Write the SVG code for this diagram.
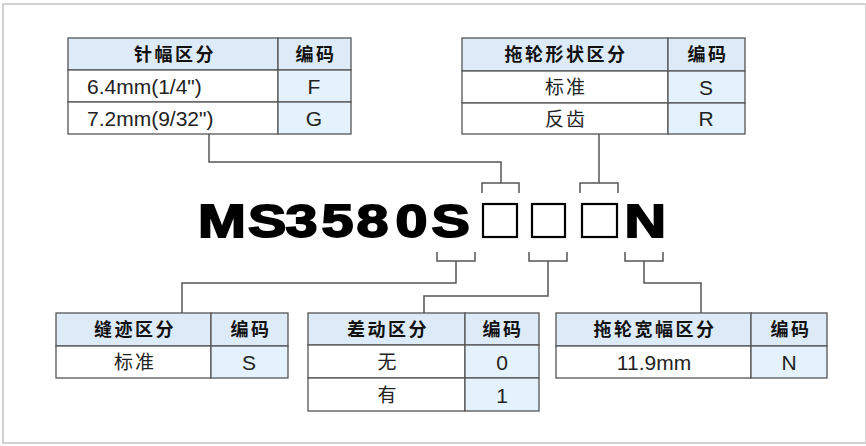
<svg xmlns="http://www.w3.org/2000/svg" width="866" height="446" viewBox="0 0 866 446">
<style>
.frame{fill:#fff;stroke:#c4c4c4;stroke-width:1.5}
.cell{stroke:#555;stroke-width:1.3}
.hd{fill:#dcebf7}
.cd{fill:#e3f2fc}
.wt{fill:#fff}
.ht{font-family:"Noto Sans CJK SC","Liberation Sans",sans-serif;font-weight:bold;font-size:18px;fill:#111;text-anchor:middle;letter-spacing:2.5px}
.dt{font-family:"Liberation Sans","Noto Sans CJK SC",sans-serif;font-size:21px;fill:#222;text-anchor:middle}
.dc{font-family:"Noto Sans CJK SC",sans-serif;font-size:19px;fill:#222;text-anchor:middle;letter-spacing:2px}
.dl{font-family:"Liberation Sans",sans-serif;font-size:21px;fill:#222}
.con{fill:none;stroke:#555;stroke-width:1.5}
.big{font-family:"Liberation Sans",Arial,sans-serif;font-weight:bold;font-size:46px;fill:#000;stroke:#000;stroke-width:1.8}
.box{fill:#fff;stroke:#000;stroke-width:2.2}
</style>
<rect class="frame" x="3" y="4" width="863" height="439"/>

<g id="connectors">
<polyline class="con" points="209,134 209,162 501,162 501,183"/>
<polyline class="con" points="482,193 482,183 519,183 519,193"/>
<polyline class="con" points="599,134 599,183"/>
<polyline class="con" points="580,193 580,183 618,183 618,193"/>
<polyline class="con" points="437,252 437,261 475,261 475,252"/>
<polyline class="con" points="456,261 456,283 182,283 182,313"/>
<polyline class="con" points="529,252 529,261 567,261 567,252"/>
<polyline class="con" points="548,261 548,296 424,296 424,313"/>
<polyline class="con" points="625,252 625,261 663,261 663,252"/>
<polyline class="con" points="644,261 644,283 701,283 701,313"/>
</g>

<g id="model">
<g transform="scale(1.25,1)">
<text class="big" y="237"><tspan x="158.4">M</tspan><tspan x="198.4">S</tspan><tspan x="228.4">3</tspan><tspan x="257.2">5</tspan><tspan x="285.2">8</tspan><tspan x="316.4">0</tspan><tspan x="345.2">S</tspan><tspan x="499.6">N</tspan></text>
</g>
<rect class="box" x="483" y="204" width="34" height="33"/>
<rect class="box" x="532" y="204" width="33" height="33"/>
<rect class="box" x="582" y="204" width="35" height="33"/>
</g>

<g id="table-needle">
<rect class="cell hd" x="68" y="38" width="210" height="32"/>
<rect class="cell hd" x="278" y="38" width="73" height="32"/>
<rect class="cell wt" x="68" y="70" width="210" height="32"/>
<rect class="cell cd" x="278" y="70" width="73" height="32"/>
<rect class="cell wt" x="68" y="102" width="210" height="32"/>
<rect class="cell cd" x="278" y="102" width="73" height="32"/>
<text class="ht" x="175" y="61">针幅区分</text>
<text class="ht" x="316" y="61">编码</text>
<text class="dl" x="87" y="94">6.4mm(1/4")</text>
<text class="dt" x="314" y="94">F</text>
<text class="dl" x="87" y="126">7.2mm(9/32")</text>
<text class="dt" x="314" y="126">G</text>
</g>

<g id="table-shape">
<rect class="cell hd" x="462" y="38" width="206" height="33"/>
<rect class="cell hd" x="668" y="38" width="77" height="33"/>
<rect class="cell wt" x="462" y="71" width="206" height="32"/>
<rect class="cell cd" x="668" y="71" width="77" height="32"/>
<rect class="cell wt" x="462" y="103" width="206" height="31"/>
<rect class="cell cd" x="668" y="103" width="77" height="31"/>
<text class="ht" x="566" y="61">拖轮形状区分</text>
<text class="ht" x="708" y="61">编码</text>
<text class="dc" x="566" y="94">标准</text>
<text class="dt" x="706" y="95">S</text>
<text class="dc" x="566" y="126">反齿</text>
<text class="dt" x="706" y="126">R</text>
</g>

<g id="table-stitch">
<rect class="cell hd" x="56" y="313" width="155" height="33"/>
<rect class="cell hd" x="211" y="313" width="77" height="33"/>
<rect class="cell wt" x="56" y="346" width="155" height="32"/>
<rect class="cell cd" x="211" y="346" width="77" height="32"/>
<text class="ht" x="135" y="336">缝迹区分</text>
<text class="ht" x="251" y="336">编码</text>
<text class="dc" x="135" y="369">标准</text>
<text class="dt" x="249" y="370">S</text>
</g>

<g id="table-diff">
<rect class="cell hd" x="308" y="313" width="157" height="32"/>
<rect class="cell hd" x="465" y="313" width="74" height="32"/>
<rect class="cell wt" x="308" y="345" width="157" height="33"/>
<rect class="cell cd" x="465" y="345" width="74" height="33"/>
<rect class="cell wt" x="308" y="378" width="157" height="33"/>
<rect class="cell cd" x="465" y="378" width="74" height="33"/>
<text class="ht" x="388" y="336">差动区分</text>
<text class="ht" x="503" y="336">编码</text>
<text class="dc" x="388" y="369">无</text>
<text class="dt" x="502" y="370">0</text>
<text class="dc" x="388" y="402">有</text>
<text class="dt" x="502" y="403">1</text>
</g>

<g id="table-width">
<rect class="cell hd" x="556" y="313" width="195" height="33"/>
<rect class="cell hd" x="751" y="313" width="76" height="33"/>
<rect class="cell wt" x="556" y="346" width="195" height="32"/>
<rect class="cell cd" x="751" y="346" width="76" height="32"/>
<text class="ht" x="655" y="336">拖轮宽幅区分</text>
<text class="ht" x="791" y="336">编码</text>
<text class="dt" x="654" y="370">11.9mm</text>
<text class="dt" x="789" y="370">N</text>
</g>
</svg>
